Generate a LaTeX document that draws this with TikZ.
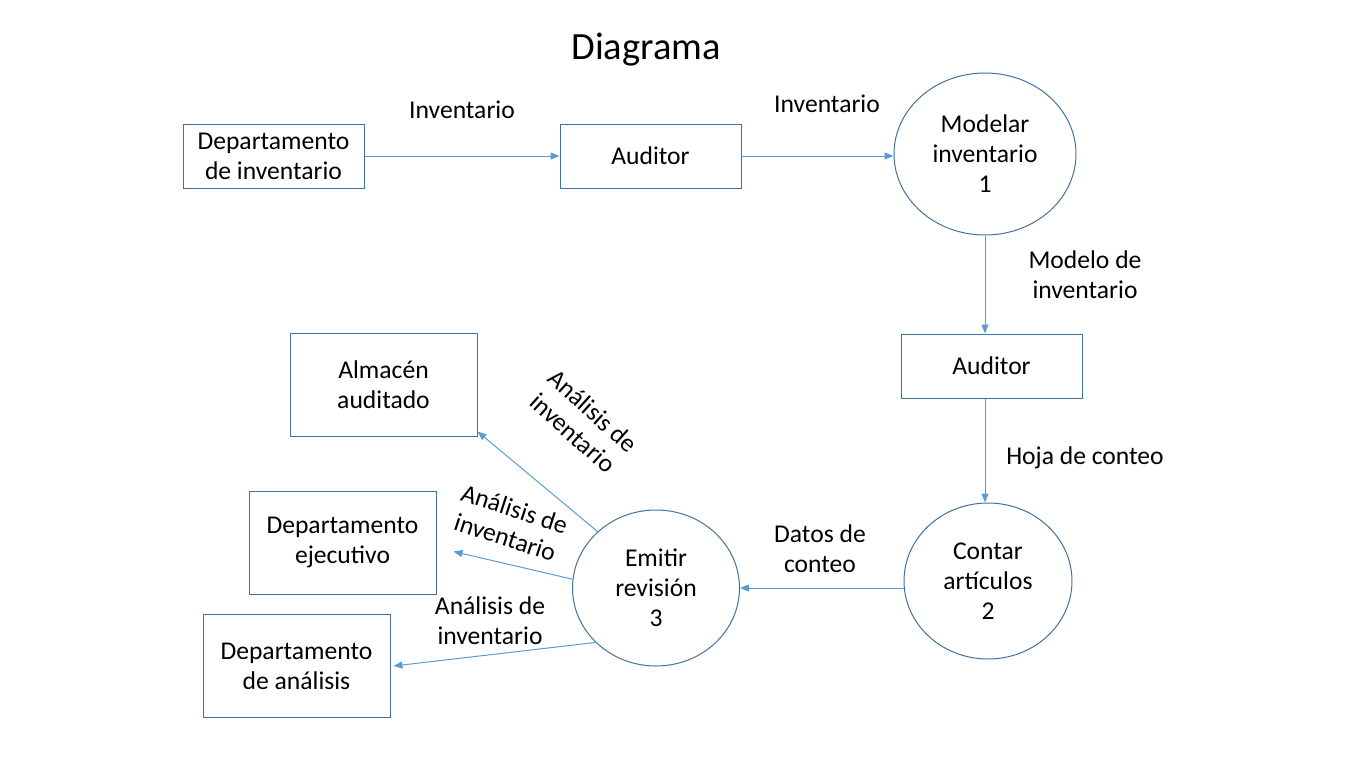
\documentclass[tikz,border=0pt]{standalone}
\usepackage{fontspec}
\setmainfont{Carlito}
\usetikzlibrary{shapes.geometric,arrows.meta}
\definecolor{boxline}{HTML}{41719C}
\definecolor{arrowline}{HTML}{5B9BD5}
\begin{document}
\begin{tikzpicture}[x=1pt,y=-1pt,
  every node/.style={font=\fontsize{25.6}{30}\selectfont, align=center, inner sep=0pt},
  box/.style={draw=boxline, line width=1pt, rectangle, minimum width=181pt, minimum height=64pt},
  bigbox/.style={draw=boxline, line width=1pt, rectangle, minimum width=187pt, minimum height=103pt},
  proc/.style={draw=boxline, line width=1pt, ellipse},
  flow/.style={draw=arrowline, line width=1pt, -{Triangle[length=9pt,width=7pt]}},
  lbl/.style={}
]
\useasboundingbox (0,0) rectangle (1366,768);
\node (title) at (646,50) {\fontsize{38.5}{42}\selectfont Diagrama};

\node[box] (dep) at (273.5,156) {Departamento\\de inventario};
\node[box] (aud1) at (650.5,156) {Auditor};
\node[proc, minimum width=182pt, minimum height=162pt] (c1) at (985,154) {Modelar\\inventario\\1};
\node[box] (aud2) at (991.5,366) {Auditor};
\node[proc, minimum width=168pt, minimum height=156pt] (c2) at (988,581) {Contar\\artículos\\2};
\node[proc, minimum width=167pt, minimum height=156pt] (c3) at (656,588) {Emitir\\revisión\\3};
\node[bigbox] (alm) at (383.5,384.5) {Almacén\\auditado};
\node[bigbox] (eje) at (342.5,542.5) {Departamento\\ejecutivo};
\node[bigbox] (ana) at (296.5,666) {Departamento\\de análisis};

\draw[flow] (dep.east) -- (aud1.west);
\draw[flow] (aud1.east) -- (aud1.east -| c1.west);
\draw[flow] (c1.south) -- (c1.south |- aud2.north);
\draw[flow] (aud2.south -| c1.south) -- (c2.north -| c1.south);
\draw[flow] (c2.west |- c3.center) -- (c3.east);
\draw[flow] (c3.136) -- ([yshift=5pt]alm.south east);
\draw[flow] (c3.174) -- ([xshift=17pt,yshift=-9pt]eje.east);
\draw[flow] (c3.222) -- ([xshift=3pt]ana.east);

\node[lbl] (l1) at (462,110) {Inventario};
\node[lbl] (l2) at (827,104) {Inventario};
\node[lbl] (l3) at (1085,275) {Modelo de\\inventario};
\node[lbl] (l4) at (1085,458) {Hoja de conteo};
\node[lbl] (l5) at (820,549) {Datos de\\conteo};
\node[lbl, rotate=-42] (l6) at (583,422) {Análisis de\\inventario};
\node[lbl, rotate=-18] (l7) at (510,523) {Análisis de\\inventario};
\node[lbl] (l8) at (490,621) {Análisis de\\inventario};
\end{tikzpicture}
\end{document}
